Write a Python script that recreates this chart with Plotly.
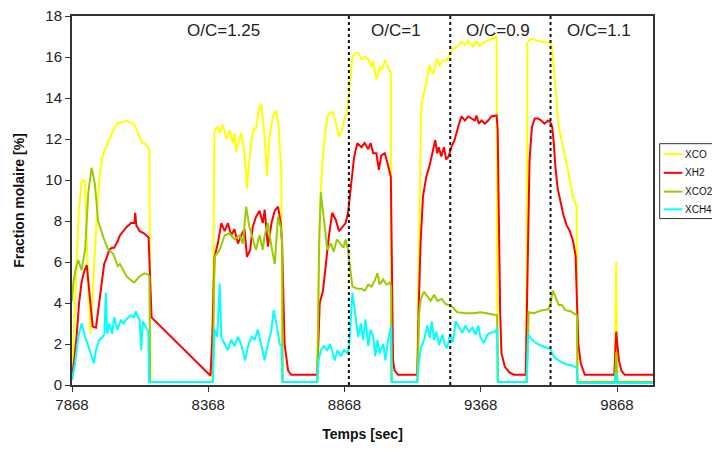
import plotly.graph_objects as go

# ---------------- data ----------------
t_co = [7868, 7880, 7893, 7903, 7910, 7916, 7925, 7936, 7948, 7960, 7972, 7983, 8000, 8018, 8036, 8050, 8066, 8080, 8097, 8107, 8116, 8125, 8134, 8146, 8152, 8155,
        8376, 8382, 8391, 8403, 8410, 8416, 8422, 8434, 8446, 8458, 8464, 8470, 8480, 8489, 8501, 8510, 8518, 8525, 8535, 8543, 8556, 8563, 8575, 8583, 8593, 8605, 8618, 8626, 8636, 8640,
        8768, 8772, 8777, 8785, 8793, 8805, 8815, 8825, 8836, 8848, 8858, 8868, 8878, 8886, 8897, 8907, 8918, 8930, 8942, 8955, 8967, 8973, 8985, 8997, 9006, 9016, 9028, 9038, 9040,
        9135, 9140, 9146, 9150, 9162, 9172, 9180, 9188, 9196, 9205, 9217, 9229, 9241, 9250, 9266, 9282, 9297, 9310, 9322, 9340, 9352, 9365, 9377, 9395, 9413, 9426, 9429,
        9535, 9539, 9554, 9572, 9590, 9609, 9621, 9628, 9634, 9642, 9654, 9672, 9690, 9705, 9715, 9720, 9722,
        9860, 9865, 9869, 10000]
xco = [0.3, 4.5, 8.5, 9.9, 10.0, 9.9, 6.0, 2.5, 5.5, 8.5, 10.5, 11.3, 11.8, 12.4, 12.8, 12.8, 12.9, 12.8, 12.7, 12.4, 12.1, 11.8, 11.8, 11.6, 11.5, 0.15,
       0.15, 0.15, 12.4, 12.6, 12.3, 12.5, 12.7, 12.0, 12.4, 11.8, 12.3, 11.4, 11.9, 12.3, 11.3, 9.6, 10.8, 11.8, 12.5, 12.5, 13.6, 13.7, 12.1, 10.2, 12.1, 13.1, 13.4, 12.6, 10.5, 0.15,
       0.15, 3.0, 8.0, 10.5, 11.8, 13.1, 13.3, 13.3, 12.8, 12.1, 12.4, 13.0, 13.3, 14.5, 16.0, 16.2, 16.2, 15.9, 16.0, 15.9, 15.5, 15.8, 14.9, 15.5, 15.4, 15.85, 15.45, 15.2, 0.15,
       0.15, 6.0, 12.0, 13.7, 14.4, 15.0, 15.6, 15.3, 15.2, 15.9, 15.6, 15.85, 15.8, 16.0, 16.4, 16.5, 16.75, 16.6, 16.8, 16.5, 16.75, 16.55, 16.7, 16.8, 16.9, 17.0, 0.15,
       0.15, 16.7, 16.9, 16.8, 16.75, 16.7, 16.75, 16.6, 15.8, 14.5, 12.6, 11.5, 10.3, 9.3, 8.85, 8.7, 0.15,
       0.15, 6.0, 0.15, 0.15]

t_h2 = [7868, 7876, 7885, 7894, 7903, 7912, 7922, 7932, 7944, 7956, 7968, 7978, 7986, 7995, 8005, 8015, 8023, 8035, 8044, 8056, 8068, 8085, 8097, 8100, 8104, 8116, 8132, 8149, 8154, 8160,
        8376, 8382, 8391, 8403, 8416, 8428, 8440, 8452, 8464, 8477, 8489, 8501, 8510, 8522, 8531, 8543, 8556, 8568, 8575, 8587, 8600, 8612, 8624, 8634, 8639, 8648, 8661, 8673,
        8768, 8777, 8789, 8799, 8811, 8823, 8836, 8848, 8860, 8872, 8881, 8891, 8903, 8915, 8930, 8942, 8955, 8964, 8973, 8985, 8994, 9003, 9016, 9028, 9038, 9046, 9052, 9064,
        9135, 9140, 9147, 9156, 9168, 9180, 9193, 9201, 9208, 9214, 9223, 9233, 9241, 9250, 9260, 9272, 9285, 9297, 9310, 9322, 9334, 9346, 9352, 9361, 9371, 9383, 9395, 9407, 9426, 9430, 9434, 9439, 9444, 9456, 9474, 9490,
        9533, 9541, 9547, 9556, 9566, 9578, 9590, 9602, 9615, 9624, 9630, 9636, 9642, 9650, 9660, 9671, 9683, 9695, 9707, 9716, 9720, 9726, 9735, 9750,
        9858, 9865, 9869, 9875, 9884, 9896, 10000]
xh2 = [0.4, 1.2, 2.4, 4.0, 5.0, 5.5, 5.85, 4.6, 2.85, 2.8, 4.15, 5.3, 5.9, 6.2, 6.6, 6.7, 6.7, 7.0, 7.3, 7.5, 7.7, 7.9, 7.9, 8.4, 7.8, 7.5, 7.4, 7.2, 5.0, 3.3,
       0.45, 2.0, 6.25, 6.9, 7.9, 7.5, 7.9, 7.3, 7.6, 6.9, 7.3, 7.6, 6.25, 6.6, 7.7, 8.2, 8.5, 7.9, 8.55, 6.75, 7.9, 8.5, 8.7, 7.9, 6.9, 2.0, 0.7, 0.5,
       0.5, 4.0, 4.6, 5.9, 7.3, 8.4, 8.05, 7.5, 7.7, 7.9, 8.4, 9.8, 11.1, 11.8, 11.6, 11.8, 11.5, 11.8, 11.3, 11.3, 10.5, 11.2, 11.3, 10.7, 10.15, 1.2, 0.7, 0.5,
       0.5, 3.65, 6.9, 9.2, 10.15, 10.7, 11.5, 11.95, 11.3, 11.6, 11.15, 11.6, 11.0, 11.15, 11.6, 11.95, 12.6, 13.1, 12.9, 13.1, 13.0, 12.9, 13.15, 12.75, 12.9, 12.75, 12.9, 13.1, 13.15, 12.5, 8.5, 3.65, 1.55, 0.9, 0.6, 0.5,
       0.5, 6.9, 11.0, 12.6, 13.0, 13.0, 12.9, 12.75, 12.9, 12.8, 12.6, 11.8, 10.6, 9.6, 8.9, 8.3, 7.8, 7.5, 7.0, 6.3, 4.5, 2.0, 1.05, 0.5,
       0.5, 2.6, 2.0, 1.2, 0.7, 0.5, 0.5]

t_co2 = [7868, 7873, 7882, 7891, 7903, 7916, 7928, 7940, 7952, 7964, 7983, 8001, 8019, 8036, 8044, 8057, 8068, 8085, 8097, 8116, 8134, 8146, 8152, 8155,
         8385, 8391, 8410, 8428, 8446, 8464, 8483, 8495, 8507, 8519, 8531, 8543, 8556, 8568, 8575, 8587, 8600, 8612, 8624, 8634, 8639, 8641,
         8768, 8775, 8781, 8793, 8805, 8818, 8828, 8840, 8852, 8864, 8872, 8881, 8891, 8897, 8915, 8930, 8942, 8955, 8967, 8979, 8989, 8997, 9010, 9022, 9034, 9039, 9041,
         9135, 9142, 9148, 9160, 9172, 9184, 9197, 9209, 9225, 9239, 9251, 9264, 9282, 9312, 9340, 9367, 9390, 9410, 9428, 9431,
         9536, 9544, 9563, 9593, 9617, 9625, 9632, 9642, 9654, 9666, 9678, 9697, 9721, 9723,
         9860, 9865, 9869, 10000]
xco2 = [4.1, 5.0, 5.7, 6.1, 5.6, 6.6, 9.4, 10.6, 9.8, 8.0, 7.2, 6.6, 6.4, 5.8, 5.9, 5.6, 5.3, 5.1, 5.0, 5.3, 5.45, 5.4, 5.3, 0.15,
        0.15, 6.25, 6.6, 7.3, 7.4, 7.1, 7.3, 6.9, 8.7, 7.7, 7.1, 6.6, 7.3, 6.6, 7.3, 7.9, 6.75, 5.9, 8.2, 7.7, 7.0, 0.15,
        0.15, 7.0, 9.4, 7.9, 6.6, 6.9, 6.5, 7.1, 6.9, 6.7, 7.1, 6.6, 5.45, 4.8, 4.7, 4.7, 4.6, 4.9, 4.8, 5.1, 5.45, 4.9, 5.15, 4.9, 5.0, 4.8, 0.15,
        0.15, 3.5, 4.2, 4.55, 4.3, 4.1, 4.4, 4.1, 4.2, 3.95, 3.9, 3.8, 3.55, 3.5, 3.5, 3.55, 3.5, 3.45, 3.4, 0.15,
        0.15, 3.55, 3.5, 3.65, 3.7, 4.0, 4.6, 4.3, 3.9, 3.9, 3.65, 3.6, 3.4, 0.15,
        0.15, 1.6, 0.15, 0.15]

t_ch4 = [7868, 7879, 7891, 7903, 7916, 7928, 7940, 7949, 7956, 7968, 7981, 7987, 7992, 7997, 8005, 8015, 8023, 8035, 8047, 8057, 8067, 8085, 8095, 8103, 8110, 8116, 8122, 8128, 8140, 8148, 8151,
         8385, 8391, 8401, 8410, 8416, 8428, 8440, 8452, 8464, 8477, 8491, 8503, 8516, 8528, 8538, 8550, 8562, 8575, 8587, 8600, 8608, 8618, 8630, 8637, 8640,
         8768, 8773, 8781, 8793, 8805, 8815, 8823, 8832, 8842, 8854, 8866, 8879, 8885, 8897, 8909, 8918, 8928, 8936, 8945, 8955, 8964, 8973, 8981, 8989, 8997, 9010, 9018, 9028, 9036, 9039, 9041,
         9135, 9140, 9148, 9160, 9172, 9181, 9188, 9197, 9205, 9215, 9227, 9237, 9245, 9254, 9266, 9276, 9288, 9300, 9312, 9325, 9337, 9349, 9359, 9367, 9380, 9392, 9404, 9422, 9428, 9431,
         9537, 9542, 9550, 9569, 9593, 9611, 9623, 9636, 9648, 9666, 9684, 9703, 9721, 9723,
         9860, 9864, 9868, 10000]
xch4 = [0.24, 1.05, 2.35, 3.0, 2.35, 1.87, 1.4, 1.07, 1.7, 2.2, 2.35, 2.5, 4.5, 2.5, 3.0, 2.5, 3.3, 2.7, 3.15, 3.0, 3.2, 3.4, 3.3, 3.6, 3.3, 3.2, 1.7, 3.1, 2.8, 2.6, 0.15,
        0.15, 2.7, 2.35, 4.95, 2.35, 2.0, 1.7, 2.2, 1.9, 2.35, 1.9, 1.2, 2.0, 2.35, 2.2, 2.7, 2.0, 1.2, 2.0, 2.7, 3.65, 3.0, 2.0, 1.9, 0.15,
        0.15, 1.2, 1.7, 1.9, 1.7, 2.0, 1.55, 1.2, 1.7, 1.4, 1.7, 1.55, 1.9, 4.5, 3.3, 2.35, 3.0, 2.2, 3.2, 1.9, 2.7, 2.35, 1.4, 2.2, 1.55, 2.0, 1.2, 2.2, 2.7, 2.9, 0.15,
        0.15, 1.0, 1.8, 2.2, 2.9, 2.3, 3.1, 2.2, 2.6, 1.95, 2.45, 1.95, 1.8, 2.45, 2.1, 3.1, 2.8, 2.55, 2.9, 2.6, 2.8, 2.45, 2.9, 2.3, 2.05, 2.45, 2.55, 2.6, 2.8, 0.15,
        0.15, 2.5, 2.3, 2.05, 1.9, 1.8, 1.75, 1.4, 1.25, 1.1, 1.0, 0.95, 0.85, 0.1,
        0.1, 0.6, 0.1, 0.1]

series_names = ["XCO", "XH2", "XCO2", "XCH4"]
series_colors = ["#FFFF00", "#FF0000", "#99CC00", "#00FFFF"]

oc_boundaries = [8884, 9256, 9624]
oc_labels = ["O/C=1.25", "O/C=1", "O/C=0.9", "O/C=1.1"]
oc_label_x = [8424, 9056, 9431, 9800]
oc_label_y = 17.28

x_ticks = [7868, 8368, 8868, 9368, 9868]
x_range = [7868, 10000]
y_range = [0, 18]

# ---------------- figure ----------------
FONT = "Liberation Sans, Arial, sans-serif"
fig = go.Figure()
for name, color, t, v in zip(series_names, series_colors,
                             [t_co, t_h2, t_co2, t_ch4], [xco, xh2, xco2, xch4]):
    fig.add_trace(go.Scatter(x=t, y=v, mode="lines", name=name, showlegend=False,
                             line=dict(color=color, width=2)))

for xb in oc_boundaries:
    fig.add_shape(type="line", xref="x", yref="paper", x0=xb, x1=xb, y0=0, y1=1,
                  line=dict(color="#111111", width=2, dash="dot"), layer="above")

for txt, xl in zip(oc_labels, oc_label_x):
    fig.add_annotation(x=xl, y=oc_label_y, text=txt, showarrow=False,
                       font=dict(family=FONT, size=17, color="#222222"))

# legend box (its right side runs off the picture, as in the original)
fig.add_shape(type="rect", xref="paper", yref="paper", x0=1.0115, x1=1.14, y0=0.451, y1=0.654,
              line=dict(color="#333333", width=1), fillcolor="white", layer="above")
leg_y = [0.626, 0.575, 0.524, 0.476]
for name, color, ly in zip(series_names, series_colors, leg_y):
    fig.add_shape(type="line", xref="paper", yref="paper", x0=1.0185, x1=1.0505, y0=ly, y1=ly,
                  line=dict(color=color, width=2), layer="above")
    fig.add_annotation(xref="paper", yref="paper", x=1.052, y=ly, xanchor="left", yanchor="middle",
                       text=name, showarrow=False,
                       font=dict(family=FONT, size=10, color="#111111"))

axis_common = dict(showgrid=False, zeroline=False, showline=True, linecolor="#333333",
                   linewidth=2, mirror=True, ticks="outside", ticklen=5, tickwidth=1,
                   tickcolor="#333333", ticklabeloverflow="allow",
                   tickfont=dict(family=FONT, size=15, color="#222222"))

fig.update_xaxes(range=x_range, tickvals=x_ticks, ticktext=[str(v) for v in x_ticks],
                 title=dict(text="<b>Temps [sec]</b>", font=dict(family=FONT, size=14, color="#111111"),
                            standoff=20),
                 **axis_common)
fig.update_yaxes(range=y_range, dtick=2,
                 title=dict(text="<b>Fraction molaire [%]</b>", font=dict(family=FONT, size=14, color="#111111"),
                            standoff=17),
                 **axis_common)

fig.update_layout(
    width=704, height=434,
    margin=dict(l=64, r=59, t=8, b=57, autoexpand=False),
    paper_bgcolor="white", plot_bgcolor="white",
    font=dict(family=FONT, size=12, color="#222222"),
    showlegend=False,
)

fig.write_html("out.html")
